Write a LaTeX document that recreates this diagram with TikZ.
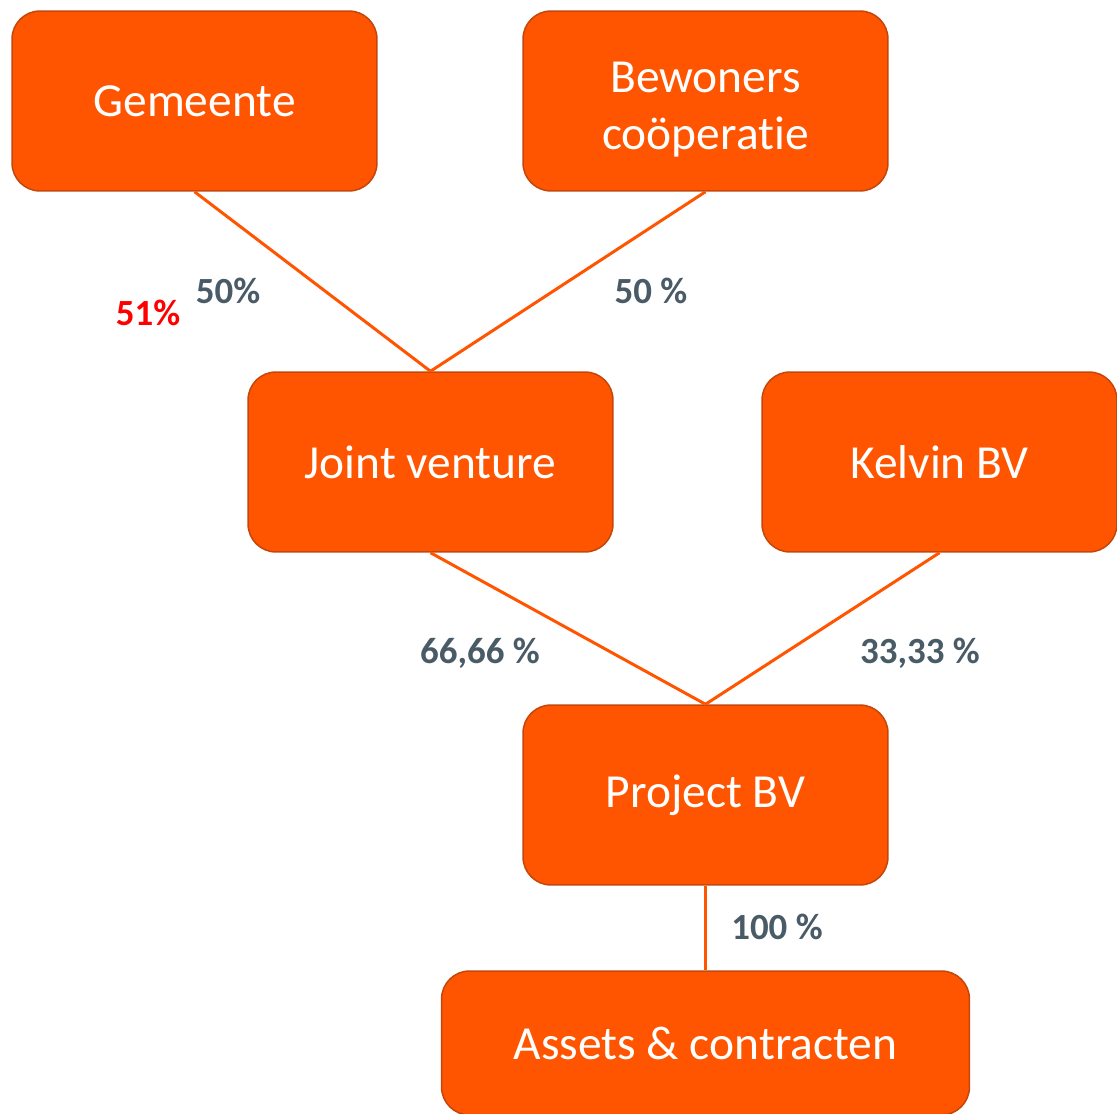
\documentclass[tikz,border=0pt]{standalone}
\usepackage{fontspec}
\setmainfont{Carlito}[Ligatures=NoCommon]
\usepackage{tikz}
\definecolor{boxor}{RGB}{255,85,0}
\definecolor{boxedge}{RGB}{196,70,10}
\definecolor{pctgrey}{RGB}{74,91,104}

\begin{document}
\begin{tikzpicture}[x=0.02cm,y=-0.02cm,org/.style={shape=rectangle,rounded corners=0.56cm,draw=boxedge,line width=0.85pt,fill=boxor,text=white,minimum width=7.3cm,minimum height=3.6cm,align=center,font=\fontsize{27}{32.4}\selectfont},orgW/.style={org,minimum width=10.56cm,minimum height=2.88cm},pct/.style={text=pctgrey,font=\fontsize{21}{25}\selectfont\bfseries},link/.style={draw=boxor,line width=1.7pt}]
\def\ya{101};
\def\yb{462};
\def\yc{795};

\useasboundingbox (0,0) rectangle (1117,1114);

\node[org] (G) at (194.5,\ya) {Gemeente};
\node[org] (BC) at (705.5,\ya) {\rule{0pt}{27pt}Bewoners\\coöperatie};

\node[org] (JV) at (430.5,\yb) {Joint venture};
\draw[link] (G.south) -- (JV.north);
\draw[link] (BC.south) -- (JV.north);
\node[org,minimum width=7.1cm] (K) at (939.5,\yb) {Kelvin BV};

\node[org] (P) at (705.5,\yc) {Project BV};
\draw[link] (JV.south) -- (P.north);
\draw[link] (K.south) -- (P.north);

\node[orgW] (AC) at (705.5,1043) {Assets \& contracten};
\draw[link] (P.south) -- (AC.north);

% percentages
\node[pct] (pG) at (228,291) {50\%};
\node[pct,text=red] (pGr) at (148,313) {51\%};
\node[pct] (pBC) at (651,291) {50 \%};
\node[pct] (pJV) at (480,653) {66,66 \%};
\node[pct] (pK) at (920,653) {33,33 \%};
\node[pct] (pP) at (777,927) {100 \%};
\end{tikzpicture}
\end{document}
